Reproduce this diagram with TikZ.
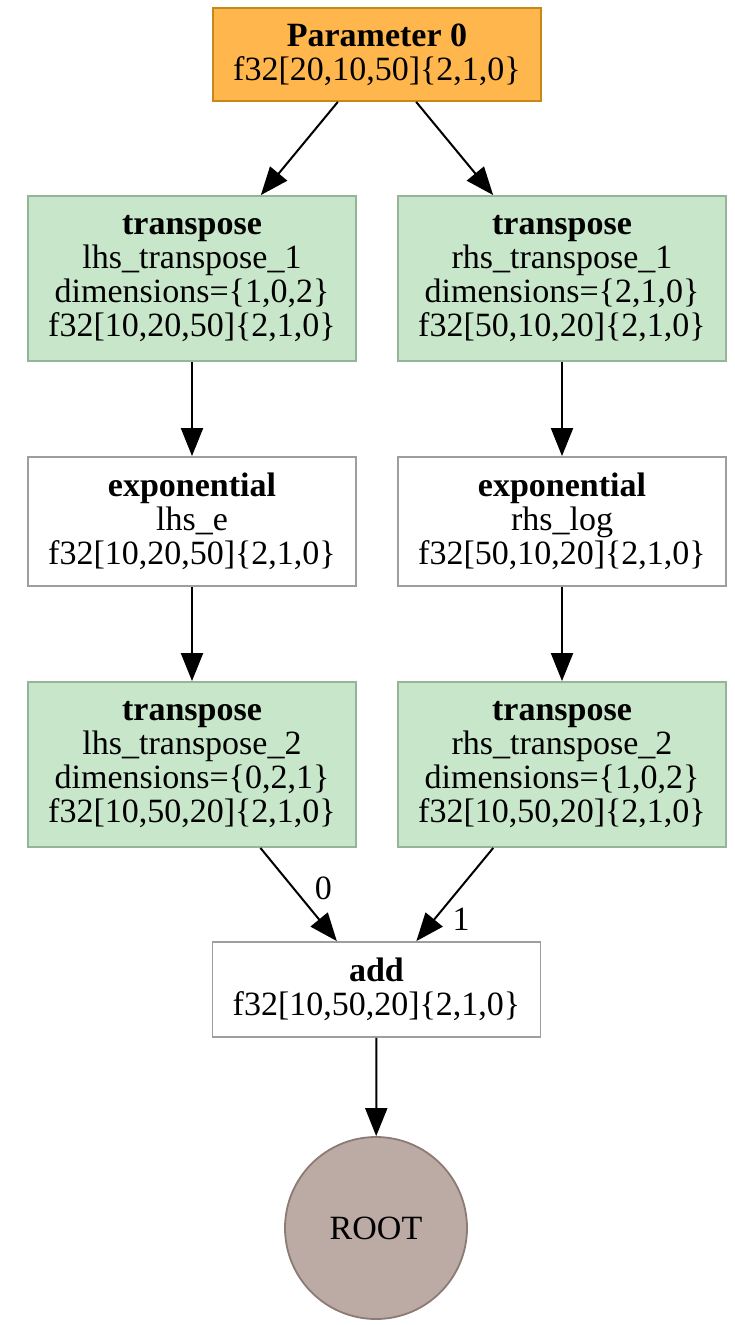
\documentclass[tikz,border=0pt]{standalone}
\usepackage{fontspec}
\setmainfont{Liberation Serif}
\usetikzlibrary{arrows.meta}
\definecolor{orfill}{HTML}{FFB74D}
\definecolor{orline}{HTML}{C88719}
\definecolor{grfill}{HTML}{C8E6C9}
\definecolor{grline}{HTML}{97B498}
\definecolor{whline}{HTML}{9E9E9E}
\definecolor{brfill}{HTML}{BCAAA4}
\definecolor{brline}{HTML}{8C7B75}
\begin{document}
\begin{tikzpicture}[x=0.5pt,y=-0.5pt,
  box/.style={draw, line width=0.9pt, rectangle, minimum width=164pt, align=center, inner sep=0pt,
    font=\fontsize{17}{17}\selectfont},
  paramnode/.style={box, fill=orfill, draw=orline, minimum height=46.5pt},
  transnode/.style={box, fill=grfill, draw=grline, minimum height=82.5pt},
  expnode/.style={box, fill=white, draw=whline, minimum height=64.5pt},
  addnode/.style={box, fill=white, draw=whline, minimum height=47.5pt},
  rootnode/.style={circle, draw=brline, fill=brfill, line width=0.9pt, minimum size=91pt, inner sep=0pt,
    font=\fontsize{17}{17}\selectfont},
  arr/.style={-{Triangle[length=14pt,width=11pt]}, line width=1pt, black},
  elabel/.style={font=\fontsize{17}{17}\selectfont, inner sep=0pt}
]
\useasboundingbox (0,0) rectangle (734,1325);

\node[paramnode] (param) at (377,54.5) {\textbf{Parameter 0}\\f32[20,10,50]\{2,1,0\}};

\node[transnode] (lt1) at (192,278.5) {\textbf{transpose}\\lhs\_transpose\_1\\dimensions=\{1,0,2\}\\f32[10,20,50]\{2,1,0\}};
\node[transnode] (rt1) at (562,278.5) {\textbf{transpose}\\rhs\_transpose\_1\\dimensions=\{2,1,0\}\\f32[50,10,20]\{2,1,0\}};

\node[expnode] (le) at (192,521.5) {\textbf{exponential}\\lhs\_e\\f32[10,20,50]\{2,1,0\}};
\node[expnode] (re) at (562,521.5) {\textbf{exponential}\\rhs\_log\\f32[50,10,20]\{2,1,0\}};

\node[transnode] (lt2) at (192,764.5) {\textbf{transpose}\\lhs\_transpose\_2\\dimensions=\{0,2,1\}\\f32[10,50,20]\{2,1,0\}};
\node[transnode] (rt2) at (562,764.5) {\textbf{transpose}\\rhs\_transpose\_2\\dimensions=\{1,0,2\}\\f32[10,50,20]\{2,1,0\}};

\node[addnode] (add) at (376.5,989.5) {\textbf{add}\\f32[10,50,20]\{2,1,0\}};

\node[rootnode] (root) at (376,1228) {ROOT};

\draw[arr] (param) -- (lt1);
\draw[arr] (param) -- (rt1);
\draw[arr] (lt1) -- (le);
\draw[arr] (rt1) -- (re);
\draw[arr] (le) -- (lt2);
\draw[arr] (re) -- (rt2);
\draw[arr] (lt2) -- node[elabel, pos=0.43, xshift=15pt] {0} (add);
\draw[arr] (rt2) -- node[elabel, pos=0.77, xshift=13.5pt] {1} (add);
\draw[arr] (add) -- (root);
\end{tikzpicture}
\end{document}
